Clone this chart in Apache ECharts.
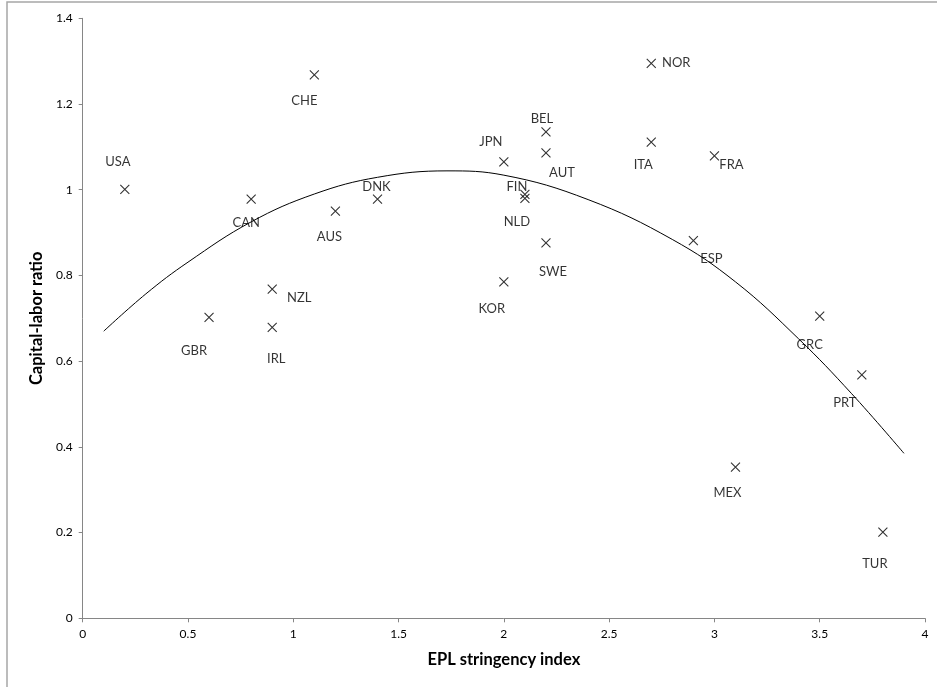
<!DOCTYPE html>
<html>
<head>
<meta charset="utf-8">
<script src="https://cdn.jsdelivr.net/npm/echarts@6/dist/echarts.min.js"></script>
<style>
html,body{margin:0;padding:0;background:#fff;}
#chart{width:937px;height:687px;}
</style>
</head>
<body>
<div id="chart"></div>
<script>
// ---- data ----
var countries = ['USA','CAN','CHE','GBR','NZL','IRL','AUS','DNK','JPN','KOR','BEL','AUT','FIN','NLD','SWE','NOR','ITA','FRA','ESP','GRC','PRT','MEX','TUR'];
var eplIndex  = [0.2, 0.8, 1.1, 0.6, 0.9, 0.9, 1.2, 1.4, 2.0, 2.0, 2.2, 2.2, 2.1, 2.1, 2.2, 2.7, 2.7, 3.0, 2.9, 3.5, 3.7, 3.1, 3.8];
var capLabor  = [1.001, 0.978, 1.268, 0.702, 0.768, 0.679, 0.950, 0.978, 1.065, 0.785, 1.135, 1.086, 0.989, 0.980, 0.876, 1.295, 1.111, 1.079, 0.881, 0.705, 0.568, 0.353, 0.201];
// trend curve points
var trendX = [0.1, 0.3, 0.5, 0.8, 1.1, 1.4, 1.73, 2.0, 2.4, 2.8, 3.1, 3.4, 3.65, 3.9];
var trendY = [0.670, 0.757, 0.831, 0.925, 0.990, 1.029, 1.044, 1.034, 0.977, 0.884, 0.785, 0.652, 0.525, 0.385];
// tick labels
var xTicks = [0, 0.5, 1, 1.5, 2, 2.5, 3, 3.5, 4];
var yTicks = [0, 0.2, 0.4, 0.6, 0.8, 1, 1.2, 1.4];

// label placement (pixels, relative to marker) - layout only
var labelDx = [-7, -5, -10, -15, 27, 4, -6, -1, -13, -12, -4, 16, -8, -8, 7, 25, -8, 17, 18, -10, -17, -8, -8];
var labelDy = [-27, 24, 26, 33, 9, 32, 26, -12, -20, 27, -13, 20, -8, 24, 29, 0, 23, 9, 18, 29, 28, 26, 32];

var FONT = 'Lato, "Open Sans", sans-serif';

var scatterData = countries.map(function (c, i) {
  return { name: c, value: [eplIndex[i], capLabor[i]] };
});
var trendData = trendX.map(function (x, i) { return [x, trendY[i]]; });

var chart = echarts.init(document.getElementById('chart'), null, { renderer: 'canvas' });
chart.setOption({
  backgroundColor: '#fff',
  animation: false,
  graphic: [{
    type: 'rect',
    shape: { x: 7, y: 2, width: 1000, height: 1000 },
    style: { fill: 'none', stroke: '#a6a6a6', lineWidth: 1.5 },
    silent: true,
    z: -1
  }],
  grid: { left: 82.7, right: 12, top: 18.3, bottom: 68.7, containLabel: false },
  xAxis: {
    type: 'value',
    min: xTicks[0], max: xTicks[xTicks.length - 1], interval: xTicks[1] - xTicks[0],
    name: 'EPL stringency index',
    nameLocation: 'middle',
    nameGap: 33,
    nameTextStyle: { fontFamily: FONT, fontWeight: 'bold', fontSize: 16.5, color: '#000' },
    axisLine: { show: true, lineStyle: { color: '#868686', width: 1 } },
    axisTick: { show: true, inside: false, length: 4, lineStyle: { color: '#868686' } },
    axisLabel: { fontFamily: FONT, fontSize: 12, color: '#000', margin: 10 },
    splitLine: { show: false }
  },
  yAxis: {
    type: 'value',
    min: yTicks[0], max: yTicks[yTicks.length - 1], interval: yTicks[1] - yTicks[0],
    name: 'Capital-labor ratio',
    nameLocation: 'middle',
    nameGap: 35,
    nameRotate: 90,
    nameTextStyle: { fontFamily: FONT, fontWeight: 'bold', fontSize: 16.5, color: '#000' },
    axisLine: { show: true, lineStyle: { color: '#868686', width: 1 } },
    axisTick: { show: true, inside: false, length: 4, lineStyle: { color: '#868686' } },
    axisLabel: { fontFamily: FONT, fontSize: 12, color: '#000', margin: 10 },
    splitLine: { show: false }
  },
  series: [
    {
      type: 'line',
      data: trendData,
      smooth: 0.4,
      showSymbol: false,
      symbol: 'none',
      lineStyle: { color: '#000', width: 1 },
      z: 1,
      silent: true
    },
    {
      type: 'scatter',
      data: scatterData,
      symbol: 'path://M0,0L10,10M10,0L0,10',
      symbolSize: 9,
      itemStyle: { color: 'rgba(0,0,0,0)', borderColor: '#000', borderWidth: 1.1 },
      label: {
        show: true,
        position: 'inside',
        formatter: '{b}',
        fontFamily: FONT,
        fontSize: 13,
        color: '#000'
      },
      labelLayout: function (params) {
        var i = params.dataIndex;
        return { dx: labelDx[i], dy: labelDy[i], hideOverlap: false };
      },
      z: 2
    }
  ]
});
</script>
</body>
</html>
